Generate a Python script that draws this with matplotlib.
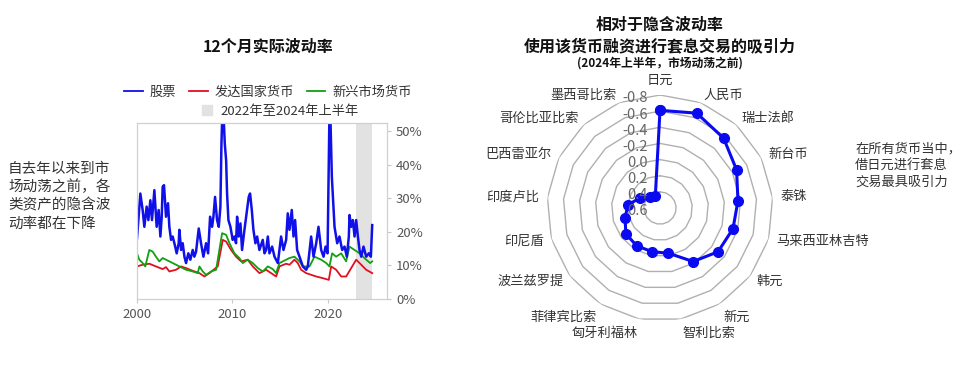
import numpy as np
import matplotlib
matplotlib.use("Agg")
import matplotlib.pyplot as plt
from matplotlib.lines import Line2D
from matplotlib.patches import Patch

plt.rcParams['font.family'] = ['Noto Sans CJK SC', 'DejaVu Sans']

# --- 左图：12个月实际波动率 (%) ---
years_eq = [2000.00, 2000.17, 2000.35, 2000.59, 2000.77, 2001.01, 2001.19, 2001.40, 2001.57, 2001.82,
            2002.06, 2002.27, 2002.45, 2002.59, 2002.69, 2002.83, 2003.04, 2003.25, 2003.39, 2003.57,
            2003.74, 2003.92, 2004.16, 2004.37, 2004.44, 2004.62, 2004.79, 2004.97, 2005.14, 2005.38,
            2005.59, 2005.84, 2006.01, 2006.19, 2006.47, 2006.71, 2006.96, 2007.24, 2007.45, 2007.66,
            2007.87, 2008.01, 2008.18, 2008.39, 2008.57, 2008.74, 2008.85, 2008.99, 2009.20, 2009.34,
            2009.44, 2009.58, 2009.79, 2010.03, 2010.21, 2010.38, 2010.49, 2010.66, 2010.84, 2011.01,
            2011.26, 2011.71, 2011.85, 2012.03, 2012.20, 2012.41, 2012.59, 2012.83, 2013.18, 2013.36,
            2013.53, 2013.71, 2013.88, 2014.16, 2014.41, 2014.76, 2015.10, 2015.35, 2015.63, 2015.80,
            2015.98, 2016.22, 2016.40, 2016.57, 2016.78, 2017.03, 2017.38, 2017.73, 2017.90, 2018.25,
            2018.50, 2018.78, 2019.02, 2019.30, 2019.55, 2019.76, 2019.97, 2020.20, 2020.42, 2020.70,
            2020.98, 2021.22, 2021.50, 2021.75, 2021.99, 2022.20, 2022.27, 2022.45, 2022.62, 2022.80,
            2022.97, 2023.15, 2023.32, 2023.50, 2023.74, 2024.02, 2024.30, 2024.51, 2024.65]
equities = [18.1, 24.5, 31.4, 26.5, 21.5, 27.5, 23.5, 29.4, 23.5, 32.4,
            21.5, 26.5, 18.6, 24.5, 33.4, 33.9, 24.5, 28.5, 21.5, 17.6,
            18.6, 16.6, 13.6, 16.6, 20.6, 14.6, 16.6, 12.6, 10.7, 13.6,
            11.7, 14.6, 12.6, 14.1, 21.0, 16.6, 12.6, 16.6, 13.6, 24.5,
            21.5, 24.5, 30.4, 23.5, 21.5, 27.5, 46.2, 60.0, 46.2, 41.3,
            31.4, 23.5, 21.5, 17.6, 18.6, 16.6, 24.5, 18.6, 22.5, 14.6,
            20.6, 30.4, 31.4, 26.5, 20.6, 16.6, 18.6, 14.6, 17.6, 13.6,
            14.6, 18.6, 13.6, 15.6, 12.6, 10.7, 18.6, 14.6, 17.6, 25.5,
            20.6, 26.5, 18.6, 23.5, 14.6, 12.6, 9.7, 8.7, 9.7, 18.6,
            12.6, 16.6, 21.5, 14.6, 12.6, 15.6, 13.6, 62.0, 36.4, 21.5,
            16.6, 18.6, 14.6, 15.6, 12.6, 18.6, 25.0, 21.5, 23.5, 18.6,
            23.5, 18.6, 14.6, 12.6, 15.6, 12.6, 13.6, 12.6, 22.0]

years_em = [2000.00, 2000.24, 2000.59, 2000.87, 2001.29, 2001.64, 2001.99, 2002.34, 2002.69, 2003.04,
            2003.74, 2004.44, 2005.14, 2005.84, 2006.36, 2006.54, 2006.89, 2007.24, 2007.76, 2008.29,
            2008.92, 2009.34, 2009.69, 2010.21, 2010.73, 2011.08, 2011.61, 2012.13, 2012.66, 2013.18,
            2013.71, 2014.23, 2014.58, 2014.93, 2015.28, 2015.63, 2015.98, 2016.50, 2017.03, 2017.38,
            2018.08, 2018.60, 2019.30, 2019.83, 2020.17, 2020.45, 2020.87, 2021.40, 2021.92, 2022.27,
            2022.80, 2023.32, 2024.02, 2024.44, 2024.65]
em_fx = [13.6, 11.7, 10.7, 9.7, 14.6, 14.1, 12.6, 11.2, 12.2, 11.7,
         10.7, 9.7, 8.7, 8.2, 7.7, 9.7, 8.2, 7.2, 8.2, 8.7,
         19.6, 19.1, 16.6, 13.6, 12.2, 10.7, 11.7, 10.7, 9.2, 8.2,
         9.7, 8.9, 7.7, 10.7, 11.2, 11.7, 12.2, 12.6, 11.2, 9.7,
         9.7, 12.6, 11.7, 10.7, 9.7, 13.6, 12.6, 13.6, 11.2, 15.6,
         14.6, 13.6, 11.7, 10.7, 11.2]

years_dm = [2000.00, 2000.59, 2001.29, 2001.99, 2002.69, 2003.04, 2003.39, 2004.09, 2004.62, 2005.14,
            2005.84, 2006.54, 2007.06, 2007.59, 2008.46, 2008.99, 2009.34, 2009.86, 2010.38, 2010.91,
            2011.61, 2012.13, 2012.83, 2013.53, 2014.58, 2014.93, 2015.63, 2015.98, 2016.50, 2016.85,
            2017.20, 2017.73, 2018.25, 2018.78, 2019.48, 2020.10, 2020.35, 2020.87, 2021.40, 2021.92,
            2022.34, 2022.97, 2023.50, 2024.02, 2024.65]
dm_fx = [9.7, 10.2, 10.5, 9.7, 8.9, 9.5, 8.2, 8.7, 9.7, 9.2,
         8.4, 7.7, 6.7, 7.7, 9.7, 17.6, 17.1, 14.6, 12.6, 11.2,
         11.7, 9.7, 7.7, 8.7, 6.7, 9.7, 10.5, 10.2, 11.7, 10.7,
         8.7, 7.7, 7.2, 6.7, 6.2, 5.7, 9.7, 8.7, 6.7, 6.7,
         8.7, 11.7, 10.2, 8.7, 7.7]

band_start, band_end = 2023.0, 2024.6

# --- 右图：套息吸引力 ---
currencies = ["日元", "人民币", "瑞士法郎", "新台币", "泰铢", "马来西亚林吉特", "韩元", "新元",
              "智利比索", "匈牙利福林", "菲律宾比索", "波兰兹罗提", "印尼盾", "印度卢比",
              "巴西雷亚尔", "哥伦比亚比索", "墨西哥比索"]
carry_ratio = [-0.61, -0.66, -0.57, -0.46, -0.37, -0.34, -0.30, -0.18,
               0.03, 0.05, 0.05, 0.07, 0.15, 0.20, 0.32, 0.41, 0.44]
r_ticks = [-0.8, -0.6, -0.4, -0.2, 0.0, 0.2, 0.4, 0.6]

fig = plt.figure(figsize=(9.72, 3.67), dpi=100)

# ---------- 左图 ----------
ax = fig.add_axes([137 / 972, 1 - 299 / 367, 250 / 972, 176 / 367])
ax.axvspan(band_start, band_end, color="#e2e2e2", lw=0)
ax.plot(years_dm, dm_fx, color="#e01020", lw=1.3)
ax.plot(years_em, em_fx, color="#10a010", lw=1.3)
ax.plot(years_eq, equities, color="#1010e8", lw=1.8)
ax.set_xlim(2000, 2026.2)
ax.set_ylim(0, 52.4)
ax.set_xticks([2000, 2010, 2020])
ax.set_yticks([0, 10, 20, 30, 40, 50])
ax.set_yticklabels([f"{v}%" for v in [0, 10, 20, 30, 40, 50]])
ax.yaxis.tick_right()
ax.tick_params(colors="#c8c8c8", labelcolor="#555555", labelsize=9.5, length=3)
for s in ax.spines.values():
    s.set_color("#d0d0d0")
    s.set_linewidth(0.9)

fig.text(268 / 972, 1 - 47 / 367, "12个月实际波动率", ha="center", va="center",
         fontsize=11.5, fontweight="bold", color="#111111")

h1 = [Line2D([], [], color="#1010e8", lw=1.3), Line2D([], [], color="#e01020", lw=1.3),
      Line2D([], [], color="#10a010", lw=1.3)]
fig.legend(h1, ["股票", "发达国家货币", "新兴市场货币"], loc="center",
           bbox_to_anchor=(268 / 972, 1 - 92 / 367), ncol=3, frameon=False, fontsize=9.5,
           handlelength=1.4, handletextpad=0.5, columnspacing=1.0, labelcolor="#333333")
fig.legend([Patch(color="#e2e2e2")], ["2022年至2024年上半年"], loc="center",
           bbox_to_anchor=(280 / 972, 1 - 111 / 367), frameon=False, fontsize=9.5,
           handlelength=0.8, handleheight=0.8, handletextpad=0.6, labelcolor="#333333")

fig.text(8 / 972, 1 - 196 / 367, "自去年以来到市\n场动荡之前，各\n类资产的隐含波\n动率都在下降",
         ha="left", va="center", fontsize=10.5, color="#333333", linespacing=1.35)

# ---------- 右图 ----------
n = len(currencies)
theta = np.linspace(0, 2 * np.pi, n, endpoint=False)
rax = fig.add_axes([547 / 972, 1 - 321 / 367, 226 / 972, 226 / 367], projection="polar")
rax.set_theta_zero_location("N")
rax.set_theta_direction(-1)
rax.set_ylim(0.6, -0.8)
rax.grid(False)
rax.spines["polar"].set_visible(False)
rax.set_xticks([])
rax.set_yticks([])

loop = np.append(theta, theta[0])
for rv in r_ticks[:-1]:
    rax.plot(loop, [rv] * len(loop), color="#b0b0b0", lw=1, zorder=1)

vals = carry_ratio + carry_ratio[:1]
rax.plot(loop, vals, color="#0a0af0", lw=2.2, marker="o", ms=7, zorder=3, clip_on=False)

for rv in r_ticks:
    rax.annotate(f"{rv:.1f}", xy=(0, rv), xytext=(-9, -2.5), textcoords="offset points",
                 ha="right", va="center", fontsize=10.5, color="#666666", zorder=4)

for t, name in zip(theta, currencies):
    s, c = np.sin(t), np.cos(t)
    ha = "left" if s > 0.1 else ("right" if s < -0.1 else "center")
    va = "top" if c < -0.8 else ("bottom" if c > 0.95 else "center")
    rax.text(t, -0.9, name, ha=ha, va=va, fontsize=9.5, color="#333333")

fig.text(660 / 972, 1 - 25 / 367, "相对于隐含波动率", ha="center", va="center",
         fontsize=11.5, fontweight="bold", color="#111111")
fig.text(660 / 972, 1 - 46 / 367, "使用该货币融资进行套息交易的吸引力", ha="center", va="center",
         fontsize=11.5, fontweight="bold", color="#111111")
fig.text(660 / 972, 1 - 63 / 367, "(2024年上半年，市场动荡之前)", ha="center", va="center",
         fontsize=8.5, fontweight="bold", color="#111111")

fig.text(855 / 972, 1 - 166 / 367, "在所有货币当中，\n借日元进行套息\n交易最具吸引力",
         ha="left", va="center", fontsize=9.5, color="#333333", linespacing=1.35)

fig.savefig("out.png", dpi=100)
